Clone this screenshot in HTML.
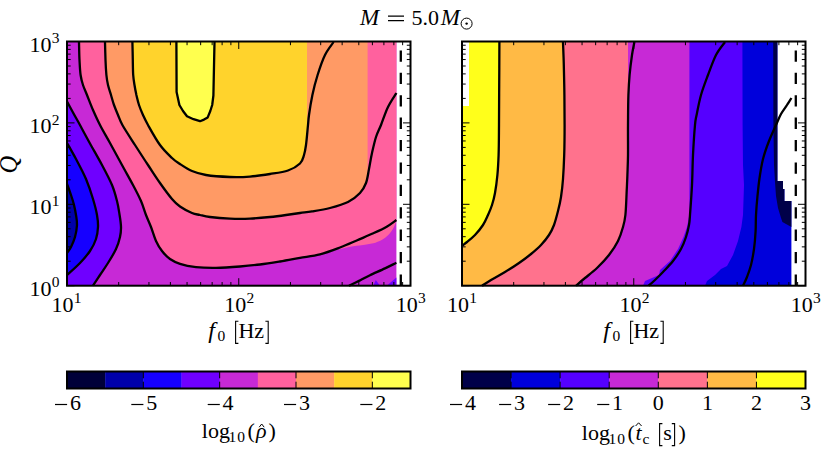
<!DOCTYPE html>
<html><head><meta charset="utf-8"><title>M = 5.0 Msun</title>
<style>
html,body{margin:0;padding:0;background:#fff;}
svg{display:block;font-family:"Liberation Serif",serif;font-size:22px;fill:#000;}
.ln path{fill:none;stroke:#000;stroke-width:2.3;stroke-linecap:butt;stroke-linejoin:round;}
.it{font-style:italic;}
</style></head><body>
<svg width="830" height="450" viewBox="0 0 830 450">
<rect width="830" height="450" fill="#fff"/>
<g shape-rendering="auto">
<rect x="67.0" y="41.5" width="329.4" height="244.2" fill="#c729d6"/>
<path fill="#6f00ff" d="M67.0,101.5 C68.0,103.3 70.8,108.4 73.0,112.5 C75.2,116.6 77.7,120.8 80.5,126.0 C83.3,131.2 86.4,137.0 90.0,143.5 C93.6,150.0 98.3,158.1 102.0,165.0 C105.7,171.9 109.5,179.0 112.0,185.0 C114.5,191.0 115.7,196.0 117.0,201.0 C118.3,206.0 118.9,210.7 119.6,215.0 C120.3,219.3 120.9,223.3 121.0,227.0 C121.1,230.7 120.8,233.3 120.0,237.0 C119.2,240.7 118.0,244.7 116.0,249.0 C114.0,253.3 110.7,258.7 108.0,263.0 C105.3,267.3 102.5,271.2 100.0,275.0 C97.5,278.8 94.2,283.9 93.0,285.7 L67,285.7 Z"/>
<path fill="#6f00ff" d="M373.3,285.7 L375.8,280 L380,285.7 Z M386.7,285.7 L396.4,277.5 L396.4,285.7 Z"/>
<path fill="#1600ff" d="M67.0,143.0 C68.5,145.7 72.8,153.0 76.0,159.0 C79.2,165.0 83.2,172.3 86.0,179.0 C88.8,185.7 91.2,193.0 93.0,199.0 C94.8,205.0 96.2,210.3 97.0,215.0 C97.8,219.7 98.2,223.0 98.0,227.0 C97.8,231.0 97.3,235.0 96.0,239.0 C94.7,243.0 92.7,247.0 90.0,251.0 C87.3,255.0 83.8,259.0 80.0,263.0 C76.2,267.0 69.2,273.0 67.0,275.0 Z"/>
<path fill="#0000aa" d="M67.0,184.0 C67.7,185.8 69.8,191.5 71.0,195.0 C72.2,198.5 73.2,201.7 74.0,205.0 C74.8,208.3 75.5,211.7 76.0,215.0 C76.5,218.3 77.2,221.3 77.0,225.0 C76.8,228.7 76.0,233.3 75.0,237.0 C74.0,240.7 72.3,244.3 71.0,247.0 C69.7,249.7 67.7,252.0 67.0,253.0 Z"/>
<path fill="#ff619e" d="M79.0,42.0 C79.1,45.0 79.2,54.5 79.5,60.0 C79.8,65.5 80.0,70.8 80.6,75.0 C81.2,79.2 81.9,81.7 83.0,85.0 C84.1,88.3 85.3,90.8 87.0,95.0 C88.7,99.2 90.8,105.0 93.0,110.0 C95.2,115.0 97.2,119.5 100.0,125.0 C102.8,130.5 106.3,136.3 110.0,143.0 C113.7,149.7 118.2,158.0 122.0,165.0 C125.8,172.0 129.8,179.0 133.0,185.0 C136.2,191.0 138.8,196.0 141.0,201.0 C143.2,206.0 144.3,210.7 146.0,215.0 C147.7,219.3 149.3,222.7 151.0,227.0 C152.7,231.3 154.2,237.0 156.0,241.0 C157.8,245.0 159.7,248.0 162.0,251.0 C164.3,254.0 167.0,256.9 170.0,259.0 C173.0,261.1 175.7,262.4 180.0,263.8 C184.3,265.2 190.0,266.4 196.0,267.1 C202.0,267.8 208.7,268.0 216.0,267.9 C223.3,267.8 232.7,267.1 240.0,266.5 C247.3,265.9 253.3,265.3 260.0,264.5 C266.7,263.7 273.3,262.6 280.0,261.5 C286.7,260.4 293.3,259.1 300.0,257.9 C306.7,256.7 313.3,255.8 320.0,254.3 C326.7,252.8 333.9,250.4 340.0,249.0 C346.1,247.6 352.5,246.5 356.7,245.8 C360.9,245.1 362.2,245.1 365.0,244.7 C367.8,244.3 370.5,244.1 373.3,243.3 C376.1,242.5 379.2,241.4 381.7,240.0 C384.2,238.6 386.4,236.9 388.3,235.0 C390.2,233.1 392.0,230.6 393.3,228.3 C394.6,226.0 395.9,222.2 396.4,221.0 L396.4,41.5 Z"/>
<path fill="#ff9a65" d="M105.0,42.0 C105.1,45.0 105.3,54.5 105.5,60.0 C105.7,65.5 106.0,70.8 106.4,75.0 C106.8,79.2 107.2,81.7 108.0,85.0 C108.8,88.3 110.0,91.7 111.0,95.0 C112.0,98.3 112.8,101.7 114.0,105.0 C115.2,108.3 116.6,111.7 118.0,115.0 C119.4,118.3 119.6,120.0 122.4,125.0 C125.2,130.0 130.7,138.3 135.0,145.0 C139.3,151.7 143.8,158.7 148.0,165.0 C152.2,171.3 156.0,177.3 160.0,183.0 C164.0,188.7 168.7,195.1 172.0,199.0 C175.3,202.9 176.7,204.2 180.0,206.5 C183.3,208.8 188.7,211.6 192.0,213.0 C195.3,214.4 197.0,214.3 200.0,215.0 C203.0,215.7 205.0,216.4 210.0,217.0 C215.0,217.6 223.3,218.3 230.0,218.6 C236.7,218.9 243.3,218.9 250.0,218.6 C256.7,218.3 264.0,217.6 270.0,217.0 C276.0,216.4 281.0,215.7 286.0,215.0 C291.0,214.3 295.7,213.6 300.0,213.0 C304.3,212.4 307.0,212.2 312.0,211.4 C317.0,210.6 324.0,209.6 330.0,208.0 C336.0,206.4 343.0,204.5 348.0,202.0 C353.0,199.5 357.0,196.2 360.0,193.0 C363.0,189.8 364.7,185.8 366.0,183.0 C367.3,180.2 367.3,177.2 367.6,176.0 L367.6,41.5 Z"/>
<path fill="#ffd32c" d="M132.4,42.0 C132.5,45.0 132.7,54.5 132.8,60.0 C132.9,65.5 132.9,70.8 133.2,75.0 C133.5,79.2 134.0,81.7 134.5,85.0 C135.0,88.3 135.7,91.7 136.4,95.0 C137.2,98.3 137.9,101.7 139.0,105.0 C140.1,108.3 141.5,111.7 143.0,115.0 C144.5,118.3 145.2,120.0 148.0,125.0 C150.8,130.0 156.0,139.5 160.0,145.0 C164.0,150.5 168.7,154.8 172.0,158.0 C175.3,161.2 176.7,161.8 180.0,164.0 C183.3,166.2 187.7,169.2 192.0,171.0 C196.3,172.8 199.7,174.0 206.0,175.0 C212.3,176.0 222.7,176.7 230.0,177.0 C237.3,177.3 243.3,177.1 250.0,176.6 C256.7,176.1 263.7,175.0 270.0,174.0 C276.3,173.0 283.0,172.2 288.0,170.5 C293.0,168.8 297.3,166.1 300.0,163.5 C302.7,160.9 303.0,158.1 304.0,155.0 C305.0,151.9 305.5,147.8 306.0,145.0 C306.5,142.2 306.8,139.2 307.0,138.0 L307,41.5 Z"/>
<path fill="#ffff4e" d="M176.4,42.0 L176.6,92.0 L179.4,105.0 L183.0,111.0 L187.0,116.3 L193.5,119.2 L200.0,121.2 L204.0,119.6 L207.7,117.4 L210.3,111.0 L212.2,105.0 L213.4,95.5 L214.5,42.0 Z"/>
</g>
<g class="ln">
<path d="M79.0,42.0 C79.1,45.0 79.2,54.5 79.5,60.0 C79.8,65.5 80.0,70.8 80.6,75.0 C81.2,79.2 81.9,81.7 83.0,85.0 C84.1,88.3 85.3,90.8 87.0,95.0 C88.7,99.2 90.8,105.0 93.0,110.0 C95.2,115.0 97.2,119.5 100.0,125.0 C102.8,130.5 106.3,136.3 110.0,143.0 C113.7,149.7 118.2,158.0 122.0,165.0 C125.8,172.0 129.8,179.0 133.0,185.0 C136.2,191.0 138.8,196.0 141.0,201.0 C143.2,206.0 144.3,210.7 146.0,215.0 C147.7,219.3 149.3,222.7 151.0,227.0 C152.7,231.3 154.2,237.0 156.0,241.0 C157.8,245.0 159.7,248.0 162.0,251.0 C164.3,254.0 167.0,256.9 170.0,259.0 C173.0,261.1 175.7,262.4 180.0,263.8 C184.3,265.2 190.0,266.4 196.0,267.1 C202.0,267.8 208.7,268.0 216.0,267.9 C223.3,267.8 232.7,267.1 240.0,266.5 C247.3,265.9 253.3,265.3 260.0,264.5 C266.7,263.7 273.3,262.6 280.0,261.5 C286.7,260.4 293.3,259.1 300.0,257.9 C306.7,256.7 313.3,256.0 320.0,254.3 C326.7,252.6 333.9,249.8 340.0,247.5 C346.1,245.2 351.1,242.9 356.7,240.5 C362.2,238.1 368.3,235.6 373.3,233.3 C378.3,231.0 382.9,228.9 386.7,226.7 C390.5,224.5 394.8,221.1 396.4,220.0"/>
<path d="M105.0,42.0 C105.1,45.0 105.3,54.5 105.5,60.0 C105.7,65.5 106.0,70.8 106.4,75.0 C106.8,79.2 107.2,81.7 108.0,85.0 C108.8,88.3 110.0,91.7 111.0,95.0 C112.0,98.3 112.8,101.7 114.0,105.0 C115.2,108.3 116.6,111.7 118.0,115.0 C119.4,118.3 119.6,120.0 122.4,125.0 C125.2,130.0 130.7,138.3 135.0,145.0 C139.3,151.7 143.8,158.7 148.0,165.0 C152.2,171.3 156.0,177.3 160.0,183.0 C164.0,188.7 168.7,195.1 172.0,199.0 C175.3,202.9 176.7,204.2 180.0,206.5 C183.3,208.8 188.7,211.6 192.0,213.0 C195.3,214.4 197.0,214.3 200.0,215.0 C203.0,215.7 205.0,216.4 210.0,217.0 C215.0,217.6 223.3,218.3 230.0,218.6 C236.7,218.9 243.3,218.9 250.0,218.6 C256.7,218.3 264.0,217.6 270.0,217.0 C276.0,216.4 281.0,215.7 286.0,215.0 C291.0,214.3 295.7,213.6 300.0,213.0 C304.3,212.4 307.0,212.2 312.0,211.4 C317.0,210.6 324.0,209.6 330.0,208.0 C336.0,206.4 343.0,204.5 348.0,202.0 C353.0,199.5 357.0,196.2 360.0,193.0 C363.0,189.8 364.5,187.0 366.0,183.0 C367.5,179.0 368.0,174.0 369.0,169.0 C370.0,164.0 370.8,158.3 372.0,153.0 C373.2,147.7 374.5,141.7 376.0,137.0 C377.5,132.3 379.0,130.0 381.0,125.0 C383.0,120.0 385.4,112.3 388.0,107.0 C390.6,101.7 395.0,95.3 396.4,93.0"/>
<path d="M132.4,42.0 C132.5,45.0 132.7,54.5 132.8,60.0 C132.9,65.5 132.9,70.8 133.2,75.0 C133.5,79.2 134.0,81.7 134.5,85.0 C135.0,88.3 135.7,91.7 136.4,95.0 C137.2,98.3 137.9,101.7 139.0,105.0 C140.1,108.3 141.5,111.7 143.0,115.0 C144.5,118.3 145.2,120.0 148.0,125.0 C150.8,130.0 156.0,139.5 160.0,145.0 C164.0,150.5 168.7,154.8 172.0,158.0 C175.3,161.2 176.7,161.8 180.0,164.0 C183.3,166.2 187.7,169.2 192.0,171.0 C196.3,172.8 199.7,174.0 206.0,175.0 C212.3,176.0 222.7,176.7 230.0,177.0 C237.3,177.3 243.3,177.1 250.0,176.6 C256.7,176.1 263.7,175.0 270.0,174.0 C276.3,173.0 283.0,172.2 288.0,170.5 C293.0,168.8 297.3,166.1 300.0,163.5 C302.7,160.9 303.0,158.1 304.0,155.0 C305.0,151.9 305.3,150.0 306.0,145.0 C306.7,140.0 307.5,130.0 308.0,125.0 C308.5,120.0 308.3,120.0 309.0,115.0 C309.7,110.0 311.0,101.7 312.4,95.0 C313.8,88.3 315.5,81.7 317.6,75.0 C319.7,68.3 322.3,60.5 325.0,55.0 C327.7,49.5 332.2,44.2 333.6,42.0"/>
<path d="M67.0,101.5 C68.0,103.3 70.8,108.4 73.0,112.5 C75.2,116.6 77.7,120.8 80.5,126.0 C83.3,131.2 86.4,137.0 90.0,143.5 C93.6,150.0 98.3,158.1 102.0,165.0 C105.7,171.9 109.5,179.0 112.0,185.0 C114.5,191.0 115.7,196.0 117.0,201.0 C118.3,206.0 118.9,210.7 119.6,215.0 C120.3,219.3 120.9,223.3 121.0,227.0 C121.1,230.7 120.8,233.3 120.0,237.0 C119.2,240.7 118.0,244.7 116.0,249.0 C114.0,253.3 110.7,258.7 108.0,263.0 C105.3,267.3 102.5,271.2 100.0,275.0 C97.5,278.8 94.2,283.9 93.0,285.7"/>
<path d="M349.0,285.7 C350.8,284.8 356.5,282.1 360.0,280.4 C363.5,278.6 365.8,277.2 370.0,275.2 C374.2,273.2 380.6,270.5 385.0,268.4 C389.4,266.3 394.5,263.7 396.4,262.8"/>
<path d="M67.0,143.0 C68.5,145.7 72.8,153.0 76.0,159.0 C79.2,165.0 83.2,172.3 86.0,179.0 C88.8,185.7 91.2,193.0 93.0,199.0 C94.8,205.0 96.2,210.3 97.0,215.0 C97.8,219.7 98.2,223.0 98.0,227.0 C97.8,231.0 97.3,235.0 96.0,239.0 C94.7,243.0 92.7,247.0 90.0,251.0 C87.3,255.0 83.8,259.0 80.0,263.0 C76.2,267.0 69.2,273.0 67.0,275.0"/>
<path d="M67.0,184.0 C67.7,185.8 69.8,191.5 71.0,195.0 C72.2,198.5 73.2,201.7 74.0,205.0 C74.8,208.3 75.5,211.7 76.0,215.0 C76.5,218.3 77.2,221.3 77.0,225.0 C76.8,228.7 76.0,233.3 75.0,237.0 C74.0,240.7 72.3,244.3 71.0,247.0 C69.7,249.7 67.7,252.0 67.0,253.0"/>
<path d="M176.4,42.0 L176.6,92.0 L179.4,105.0 L183.0,111.0 L187.0,116.3 L193.5,119.2 L200.0,121.2 L204.0,119.6 L207.7,117.4 L210.3,111.0 L212.2,105.0 L213.4,95.5 L214.5,42.0"/>
</g>
<path d="M400.8,285.7 V41.5" stroke="#000" stroke-width="2.3" stroke-dasharray="11.3 11.1" fill="none"/>
<path d="M67.00,41.50 v7.5 M67.00,285.70 v-7.5 M118.70,41.50 v3.7 M118.70,285.70 v-3.7 M148.95,41.50 v3.7 M148.95,285.70 v-3.7 M170.40,41.50 v3.7 M170.40,285.70 v-3.7 M187.05,41.50 v3.7 M187.05,285.70 v-3.7 M200.65,41.50 v3.7 M200.65,285.70 v-3.7 M212.15,41.50 v3.7 M212.15,285.70 v-3.7 M222.11,41.50 v3.7 M222.11,285.70 v-3.7 M230.89,41.50 v3.7 M230.89,285.70 v-3.7 M238.75,41.50 v7.5 M238.75,285.70 v-7.5 M290.45,41.50 v3.7 M290.45,285.70 v-3.7 M320.70,41.50 v3.7 M320.70,285.70 v-3.7 M342.15,41.50 v3.7 M342.15,285.70 v-3.7 M358.80,41.50 v3.7 M358.80,285.70 v-3.7 M372.40,41.50 v3.7 M372.40,285.70 v-3.7 M383.90,41.50 v3.7 M383.90,285.70 v-3.7 M393.86,41.50 v3.7 M393.86,285.70 v-3.7 M402.64,41.50 v3.7 M402.64,285.70 v-3.7 M410.50,41.50 v7.5 M410.50,285.70 v-7.5 M67.00,285.70 h7.5 M410.50,285.70 h-7.5 M67.00,261.20 h3.7 M410.50,261.20 h-3.7 M67.00,246.86 h3.7 M410.50,246.86 h-3.7 M67.00,236.69 h3.7 M410.50,236.69 h-3.7 M67.00,228.80 h3.7 M410.50,228.80 h-3.7 M67.00,222.36 h3.7 M410.50,222.36 h-3.7 M67.00,216.91 h3.7 M410.50,216.91 h-3.7 M67.00,212.19 h3.7 M410.50,212.19 h-3.7 M67.00,208.02 h3.7 M410.50,208.02 h-3.7 M67.00,204.30 h7.5 M410.50,204.30 h-7.5 M67.00,179.80 h3.7 M410.50,179.80 h-3.7 M67.00,165.46 h3.7 M410.50,165.46 h-3.7 M67.00,155.29 h3.7 M410.50,155.29 h-3.7 M67.00,147.40 h3.7 M410.50,147.40 h-3.7 M67.00,140.96 h3.7 M410.50,140.96 h-3.7 M67.00,135.51 h3.7 M410.50,135.51 h-3.7 M67.00,130.79 h3.7 M410.50,130.79 h-3.7 M67.00,126.62 h3.7 M410.50,126.62 h-3.7 M67.00,122.90 h7.5 M410.50,122.90 h-7.5 M67.00,98.40 h3.7 M410.50,98.40 h-3.7 M67.00,84.06 h3.7 M410.50,84.06 h-3.7 M67.00,73.89 h3.7 M410.50,73.89 h-3.7 M67.00,66.00 h3.7 M410.50,66.00 h-3.7 M67.00,59.56 h3.7 M410.50,59.56 h-3.7 M67.00,54.11 h3.7 M410.50,54.11 h-3.7 M67.00,49.39 h3.7 M410.50,49.39 h-3.7 M67.00,45.22 h3.7 M410.50,45.22 h-3.7 M67.00,41.50 h7.5 M410.50,41.50 h-7.5" stroke="#000" stroke-width="1" fill="none"/>
<rect x="67.0" y="41.5" width="343.5" height="244.2" fill="none" stroke="#000" stroke-width="2"/>
<g>
<path fill="#0000db" d="M462.0,41.5 L777.4,41.5 L777.4,181 L783,181 L783,189 L784.4,189 L784.4,201 L791.4,201 L791.4,285.7 L462.0,285.7 Z"/>
<path fill="#000049" d="M773.2,41.5 L777.4,41.5 L777.4,181 L783,181 L783,189 L784.4,189 L784.4,201 L791.4,201 L791.4,227 L782.4,222 L781,218 L778,208 L776,196 L775,182 L774,165 L773.4,125 L773.2,41.5 Z"/>
<path fill="#5500ff" d="M742.4,42.0 L742.6,125.0 L743.0,165.0 L744.0,185.0 L743.0,215.0 L741.4,227.0 L738.0,241.0 L733.0,255.0 L727.0,266.0 L721.0,269.0 L715.0,275.0 L707.0,281.0 L705.0,285.7 L462.0,285.7 L462.0,41.5 Z"/>
<path fill="#c729d6" d="M689.4,42.0 L689.4,215.0 L687.0,227.0 L683.5,237.0 L678.0,249.0 L670.0,261.0 L660.0,270.0 L659.0,275.0 L652.0,278.0 L645.0,281.0 L643.0,285.7 L462.0,285.7 L462.0,41.5 Z"/>
<path fill="#ff728d" d="M628.0,42.0 C628.0,55.8 628.0,106.2 628.0,125.0 C628.0,143.8 628.1,146.7 628.0,155.0 C627.9,163.3 627.6,168.7 627.4,175.0 C627.2,181.3 626.9,186.3 626.6,193.0 C626.3,199.7 626.0,209.3 625.4,215.0 C624.8,220.7 624.2,222.7 623.0,227.0 C621.8,231.3 620.3,236.3 618.0,241.0 C615.7,245.7 612.5,250.5 609.0,255.0 C605.5,259.5 601.0,264.2 597.0,268.0 C593.0,271.8 588.5,275.1 585.0,278.0 C581.5,280.9 577.5,284.4 576.0,285.7 L462.0,285.7 L462.0,41.5 Z"/>
<path fill="#ffba45" d="M563.0,42.0 C563.1,45.8 563.6,56.2 563.8,65.0 C564.0,73.8 564.3,85.0 564.4,95.0 C564.5,105.0 564.6,115.0 564.6,125.0 C564.6,135.0 564.5,146.0 564.2,155.0 C563.9,164.0 563.5,172.0 563.0,179.0 C562.5,186.0 561.8,191.7 561.0,197.0 C560.2,202.3 559.2,206.3 558.0,211.0 C556.8,215.7 555.5,221.0 554.0,225.0 C552.5,229.0 551.2,231.7 549.0,235.0 C546.8,238.3 544.0,241.8 541.0,245.0 C538.0,248.2 534.7,251.0 531.0,254.0 C527.3,257.0 523.3,260.0 519.0,263.0 C514.7,266.0 509.7,269.2 505.0,272.0 C500.3,274.8 494.8,277.7 491.0,280.0 C487.2,282.3 483.5,284.8 482.0,285.7 L462.0,285.7 L462.0,41.5 Z"/>
<path fill="#ffff1b" d="M499.4,42.0 C499.4,49.2 499.3,71.2 499.2,85.0 C499.1,98.8 499.1,113.3 499.0,125.0 C498.9,136.7 498.9,146.7 498.6,155.0 C498.3,163.3 498.0,168.7 497.4,175.0 C496.8,181.3 495.9,188.0 495.0,193.0 C494.1,198.0 493.2,201.3 492.0,205.0 C490.8,208.7 489.5,211.7 488.0,215.0 C486.5,218.3 485.2,221.7 483.0,225.0 C480.8,228.3 477.7,232.2 475.0,235.0 C472.3,237.8 469.2,240.2 467.0,242.0 C464.8,243.8 462.8,245.3 462.0,246.0 L462.0,41.5 Z"/>
<rect x="462.0" y="41.5" width="7.0" height="64.5" fill="#fff"/>
</g>
<g class="ln">
<path d="M499.4,42.0 C499.4,49.2 499.3,71.2 499.2,85.0 C499.1,98.8 499.1,113.3 499.0,125.0 C498.9,136.7 498.9,146.7 498.6,155.0 C498.3,163.3 498.0,168.7 497.4,175.0 C496.8,181.3 495.9,188.0 495.0,193.0 C494.1,198.0 493.2,201.3 492.0,205.0 C490.8,208.7 489.5,211.7 488.0,215.0 C486.5,218.3 485.2,221.7 483.0,225.0 C480.8,228.3 477.7,232.2 475.0,235.0 C472.3,237.8 469.2,240.2 467.0,242.0 C464.8,243.8 462.8,245.3 462.0,246.0"/>
<path d="M563.0,42.0 C563.1,45.8 563.6,56.2 563.8,65.0 C564.0,73.8 564.3,85.0 564.4,95.0 C564.5,105.0 564.6,115.0 564.6,125.0 C564.6,135.0 564.5,146.0 564.2,155.0 C563.9,164.0 563.5,172.0 563.0,179.0 C562.5,186.0 561.8,191.7 561.0,197.0 C560.2,202.3 559.2,206.3 558.0,211.0 C556.8,215.7 555.5,221.0 554.0,225.0 C552.5,229.0 551.2,231.7 549.0,235.0 C546.8,238.3 544.0,241.8 541.0,245.0 C538.0,248.2 534.7,251.0 531.0,254.0 C527.3,257.0 523.3,260.0 519.0,263.0 C514.7,266.0 509.7,269.2 505.0,272.0 C500.3,274.8 494.8,277.7 491.0,280.0 C487.2,282.3 483.5,284.8 482.0,285.7"/>
<path d="M634.4,42.0 C634.0,44.2 632.8,49.5 632.0,55.0 C631.2,60.5 630.2,68.3 629.6,75.0 C629.0,81.7 628.7,86.7 628.4,95.0 C628.1,103.3 628.1,115.0 628.0,125.0 C627.9,135.0 628.1,146.7 628.0,155.0 C627.9,163.3 627.6,168.7 627.4,175.0 C627.2,181.3 626.9,186.3 626.6,193.0 C626.3,199.7 626.0,209.3 625.4,215.0 C624.8,220.7 624.2,222.7 623.0,227.0 C621.8,231.3 620.3,236.3 618.0,241.0 C615.7,245.7 612.5,250.5 609.0,255.0 C605.5,259.5 601.0,264.2 597.0,268.0 C593.0,271.8 588.5,275.1 585.0,278.0 C581.5,280.9 577.5,284.4 576.0,285.7"/>
<path d="M725.0,42.0 C723.5,44.2 718.8,49.5 716.0,55.0 C713.2,60.5 710.5,68.3 708.0,75.0 C705.5,81.7 702.9,88.3 701.0,95.0 C699.1,101.7 697.6,110.0 696.6,115.0 C695.6,120.0 695.6,118.3 695.0,125.0 C694.4,131.7 693.5,145.0 693.0,155.0 C692.5,165.0 692.5,175.0 692.0,185.0 C691.5,195.0 690.5,208.3 690.0,215.0 C689.5,221.7 689.7,221.3 689.0,225.0 C688.3,228.7 687.3,233.0 686.0,237.0 C684.7,241.0 683.2,245.0 681.0,249.0 C678.8,253.0 676.0,257.2 673.0,261.0 C670.0,264.8 666.0,268.8 663.0,272.0 C660.0,275.2 657.4,277.7 655.0,280.0 C652.6,282.3 649.7,284.8 648.6,285.7"/>
<path d="M791.4,98.0 C790.7,99.2 788.7,102.3 787.0,105.0 C785.3,107.7 782.8,110.7 781.0,114.0 C779.2,117.3 778.0,120.5 776.0,125.0 C774.0,129.5 771.2,135.3 769.0,141.0 C766.8,146.7 764.6,152.7 763.0,159.0 C761.4,165.3 760.3,172.7 759.4,179.0 C758.5,185.3 758.0,191.0 757.4,197.0 C756.8,203.0 756.3,209.3 756.0,215.0 C755.7,220.7 755.9,225.3 755.6,231.0 C755.3,236.7 754.8,243.3 754.0,249.0 C753.2,254.7 752.2,260.3 751.0,265.0 C749.8,269.7 748.3,273.6 747.0,277.0 C745.7,280.4 743.7,284.2 743.0,285.7"/>
</g>
<path d="M795.8,285.7 V41.5" stroke="#000" stroke-width="2.3" stroke-dasharray="11.3 11.1" fill="none"/>
<path d="M462.00,41.50 v7.5 M462.00,285.70 v-7.5 M513.70,41.50 v3.7 M513.70,285.70 v-3.7 M543.95,41.50 v3.7 M543.95,285.70 v-3.7 M565.40,41.50 v3.7 M565.40,285.70 v-3.7 M582.05,41.50 v3.7 M582.05,285.70 v-3.7 M595.65,41.50 v3.7 M595.65,285.70 v-3.7 M607.15,41.50 v3.7 M607.15,285.70 v-3.7 M617.11,41.50 v3.7 M617.11,285.70 v-3.7 M625.89,41.50 v3.7 M625.89,285.70 v-3.7 M633.75,41.50 v7.5 M633.75,285.70 v-7.5 M685.45,41.50 v3.7 M685.45,285.70 v-3.7 M715.70,41.50 v3.7 M715.70,285.70 v-3.7 M737.15,41.50 v3.7 M737.15,285.70 v-3.7 M753.80,41.50 v3.7 M753.80,285.70 v-3.7 M767.40,41.50 v3.7 M767.40,285.70 v-3.7 M778.90,41.50 v3.7 M778.90,285.70 v-3.7 M788.86,41.50 v3.7 M788.86,285.70 v-3.7 M797.64,41.50 v3.7 M797.64,285.70 v-3.7 M805.50,41.50 v7.5 M805.50,285.70 v-7.5 M462.00,285.70 h7.5 M805.50,285.70 h-7.5 M462.00,261.20 h3.7 M805.50,261.20 h-3.7 M462.00,246.86 h3.7 M805.50,246.86 h-3.7 M462.00,236.69 h3.7 M805.50,236.69 h-3.7 M462.00,228.80 h3.7 M805.50,228.80 h-3.7 M462.00,222.36 h3.7 M805.50,222.36 h-3.7 M462.00,216.91 h3.7 M805.50,216.91 h-3.7 M462.00,212.19 h3.7 M805.50,212.19 h-3.7 M462.00,208.02 h3.7 M805.50,208.02 h-3.7 M462.00,204.30 h7.5 M805.50,204.30 h-7.5 M462.00,179.80 h3.7 M805.50,179.80 h-3.7 M462.00,165.46 h3.7 M805.50,165.46 h-3.7 M462.00,155.29 h3.7 M805.50,155.29 h-3.7 M462.00,147.40 h3.7 M805.50,147.40 h-3.7 M462.00,140.96 h3.7 M805.50,140.96 h-3.7 M462.00,135.51 h3.7 M805.50,135.51 h-3.7 M462.00,130.79 h3.7 M805.50,130.79 h-3.7 M462.00,126.62 h3.7 M805.50,126.62 h-3.7 M462.00,122.90 h7.5 M805.50,122.90 h-7.5 M462.00,98.40 h3.7 M805.50,98.40 h-3.7 M462.00,84.06 h3.7 M805.50,84.06 h-3.7 M462.00,73.89 h3.7 M805.50,73.89 h-3.7 M462.00,66.00 h3.7 M805.50,66.00 h-3.7 M462.00,59.56 h3.7 M805.50,59.56 h-3.7 M462.00,54.11 h3.7 M805.50,54.11 h-3.7 M462.00,49.39 h3.7 M805.50,49.39 h-3.7 M462.00,45.22 h3.7 M805.50,45.22 h-3.7 M462.00,41.50 h7.5 M805.50,41.50 h-7.5" stroke="#000" stroke-width="1" fill="none"/>
<rect x="462.0" y="41.5" width="343.5" height="244.2" fill="none" stroke="#000" stroke-width="2"/>
<text x="59.6" y="295.8" text-anchor="end">10<tspan dy="-8.4" font-size="15.5" dx="0.3">0</tspan></text>
<text x="59.6" y="214.4" text-anchor="end">10<tspan dy="-8.4" font-size="15.5" dx="0.3">1</tspan></text>
<text x="59.6" y="133.0" text-anchor="end">10<tspan dy="-8.4" font-size="15.5" dx="0.3">2</tspan></text>
<text x="59.6" y="51.6" text-anchor="end">10<tspan dy="-8.4" font-size="15.5" dx="0.3">3</tspan></text>
<text x="66.6" y="311.8" text-anchor="middle">10<tspan dy="-8.4" font-size="15.5" dx="0.3">1</tspan></text>
<text x="239.3" y="311.8" text-anchor="middle">10<tspan dy="-8.4" font-size="15.5" dx="0.3">2</tspan></text>
<text x="410.8" y="311.8" text-anchor="middle">10<tspan dy="-8.4" font-size="15.5" dx="0.3">3</tspan></text>
<text x="461.9" y="311.8" text-anchor="middle">10<tspan dy="-8.4" font-size="15.5" dx="0.3">1</tspan></text>
<text x="634.4" y="311.8" text-anchor="middle">10<tspan dy="-8.4" font-size="15.5" dx="0.3">2</tspan></text>
<text x="805.8" y="311.8" text-anchor="middle">10<tspan dy="-8.4" font-size="15.5" dx="0.3">3</tspan></text>
<!-- title -->
<text x="360" y="25" class="it" font-size="23">M</text>
<path d="M388,16.2 H404 M388,20.7 H404" stroke="#000" stroke-width="1.2" fill="none"/>
<text x="411.4" y="25">5.0</text>
<text x="440.8" y="25" class="it" font-size="23">M</text>
<circle cx="466.6" cy="23.6" r="5.5" fill="none" stroke="#000" stroke-width="1"/><circle cx="466.6" cy="23.6" r="1.2"/>
<!-- axis labels -->
<text x="208.2" y="338" class="it" font-size="24">f</text><text x="217.6" y="341" font-size="15.5">0</text><text x="238.4" y="338">Hz</text><path d="M238.4,321.2 H235.6 V343.4 H238.4 M265.4,321.2 H268.2 V343.4 H265.4" stroke="#000" stroke-width="1.1" fill="none"/>
<text x="603.2" y="338" class="it" font-size="24">f</text><text x="612.6" y="341" font-size="15.5">0</text><text x="633.4" y="338">Hz</text><path d="M633.4,321.2 H630.6 V343.4 H633.4 M660.4,321.2 H663.2 V343.4 H660.4" stroke="#000" stroke-width="1.1" fill="none"/>
<text class="it" font-size="24.5" transform="translate(16.8,173.4) rotate(-90)">Q</text>
<rect x="67.00" y="371.5" width="38.47" height="17.0" fill="#000039"/>
<rect x="105.17" y="371.5" width="38.47" height="17.0" fill="#0000aa"/>
<rect x="143.33" y="371.5" width="38.47" height="17.0" fill="#1600ff"/>
<rect x="181.50" y="371.5" width="38.47" height="17.0" fill="#6f00ff"/>
<rect x="219.67" y="371.5" width="38.47" height="17.0" fill="#c729d6"/>
<rect x="257.83" y="371.5" width="38.47" height="17.0" fill="#ff619e"/>
<rect x="296.00" y="371.5" width="38.47" height="17.0" fill="#ff9a65"/>
<rect x="334.17" y="371.5" width="38.47" height="17.0" fill="#ffd32c"/>
<rect x="372.33" y="371.5" width="38.47" height="17.0" fill="#ffff4e"/>
<path d="M55.0,404.5 H67.1" stroke="#000" stroke-width="1.2" fill="none"/>
<text x="69.9" y="410.4">6</text>
<path d="M131.3,404.5 H143.4" stroke="#000" stroke-width="1.2" fill="none"/>
<text x="146.2" y="410.4">5</text>
<path d="M207.7,404.5 H219.8" stroke="#000" stroke-width="1.2" fill="none"/>
<text x="222.6" y="410.4">4</text>
<path d="M284.0,404.5 H296.1" stroke="#000" stroke-width="1.2" fill="none"/>
<text x="298.9" y="410.4">3</text>
<path d="M360.3,404.5 H372.4" stroke="#000" stroke-width="1.2" fill="none"/>
<text x="375.2" y="410.4">2</text>
<path d="M67.00,371.5 v6.8 M67.00,388.5 v-6.8 M143.33,371.5 v6.8 M143.33,388.5 v-6.8 M219.67,371.5 v6.8 M219.67,388.5 v-6.8 M296.00,371.5 v6.8 M296.00,388.5 v-6.8 M372.33,371.5 v6.8 M372.33,388.5 v-6.8" stroke="#000" stroke-width="1" fill="none"/>
<rect x="67.0" y="371.5" width="343.5" height="17.0" fill="none" stroke="#000" stroke-width="2"/>
<rect x="462.00" y="371.5" width="49.37" height="17.0" fill="#000049"/>
<rect x="511.07" y="371.5" width="49.37" height="17.0" fill="#0000db"/>
<rect x="560.14" y="371.5" width="49.37" height="17.0" fill="#5500ff"/>
<rect x="609.21" y="371.5" width="49.37" height="17.0" fill="#c729d6"/>
<rect x="658.29" y="371.5" width="49.37" height="17.0" fill="#ff728d"/>
<rect x="707.36" y="371.5" width="49.37" height="17.0" fill="#ffba45"/>
<rect x="756.43" y="371.5" width="49.37" height="17.0" fill="#ffff1b"/>
<path d="M450.0,404.5 H462.1" stroke="#000" stroke-width="1.2" fill="none"/>
<text x="464.9" y="410.4">4</text>
<path d="M499.1,404.5 H511.2" stroke="#000" stroke-width="1.2" fill="none"/>
<text x="514.0" y="410.4">3</text>
<path d="M548.1,404.5 H560.2" stroke="#000" stroke-width="1.2" fill="none"/>
<text x="563.0" y="410.4">2</text>
<path d="M597.2,404.5 H609.3" stroke="#000" stroke-width="1.2" fill="none"/>
<text x="612.1" y="410.4">1</text>
<text x="658.3" y="410.4" text-anchor="middle">0</text>
<text x="707.4" y="410.4" text-anchor="middle">1</text>
<text x="756.4" y="410.4" text-anchor="middle">2</text>
<text x="805.5" y="410.4" text-anchor="middle">3</text>
<path d="M462.00,371.5 v6.8 M462.00,388.5 v-6.8 M511.07,371.5 v6.8 M511.07,388.5 v-6.8 M560.14,371.5 v6.8 M560.14,388.5 v-6.8 M609.21,371.5 v6.8 M609.21,388.5 v-6.8 M658.29,371.5 v6.8 M658.29,388.5 v-6.8 M707.36,371.5 v6.8 M707.36,388.5 v-6.8 M756.43,371.5 v6.8 M756.43,388.5 v-6.8 M805.50,371.5 v6.8 M805.50,388.5 v-6.8" stroke="#000" stroke-width="1" fill="none"/>
<rect x="462.0" y="371.5" width="343.5" height="17.0" fill="none" stroke="#000" stroke-width="2"/>
<text x="201.8" y="438">log</text><text x="228.6" y="442.4" font-size="15.5" letter-spacing="1">10</text><text x="247.4" y="438">(</text><text x="256" y="438" class="it">&#961;</text><path d="M259.2,427.2 L261.7,424 L264.2,427.2" stroke="#000" stroke-width="1" fill="none"/><text x="268.6" y="438">)</text>
<text x="581.8" y="440">log</text><text x="608.6" y="444.4" font-size="15.5" letter-spacing="1">10</text><text x="627.4" y="440">(</text><text x="635.4" y="440" class="it">t</text><path d="M635.6,426 L638.6,422.8 L641.6,426" stroke="#000" stroke-width="1" fill="none"/><text x="642.6" y="443.6" font-size="15.5">c</text><text x="663.2" y="440">s</text><path d="M662.4,423.6 H659.6 V445.6 H662.4 M671.8,423.6 H674.6 V445.6 H671.8" stroke="#000" stroke-width="1.1" fill="none"/><text x="678.4" y="440">)</text>
</svg>
</body></html>
